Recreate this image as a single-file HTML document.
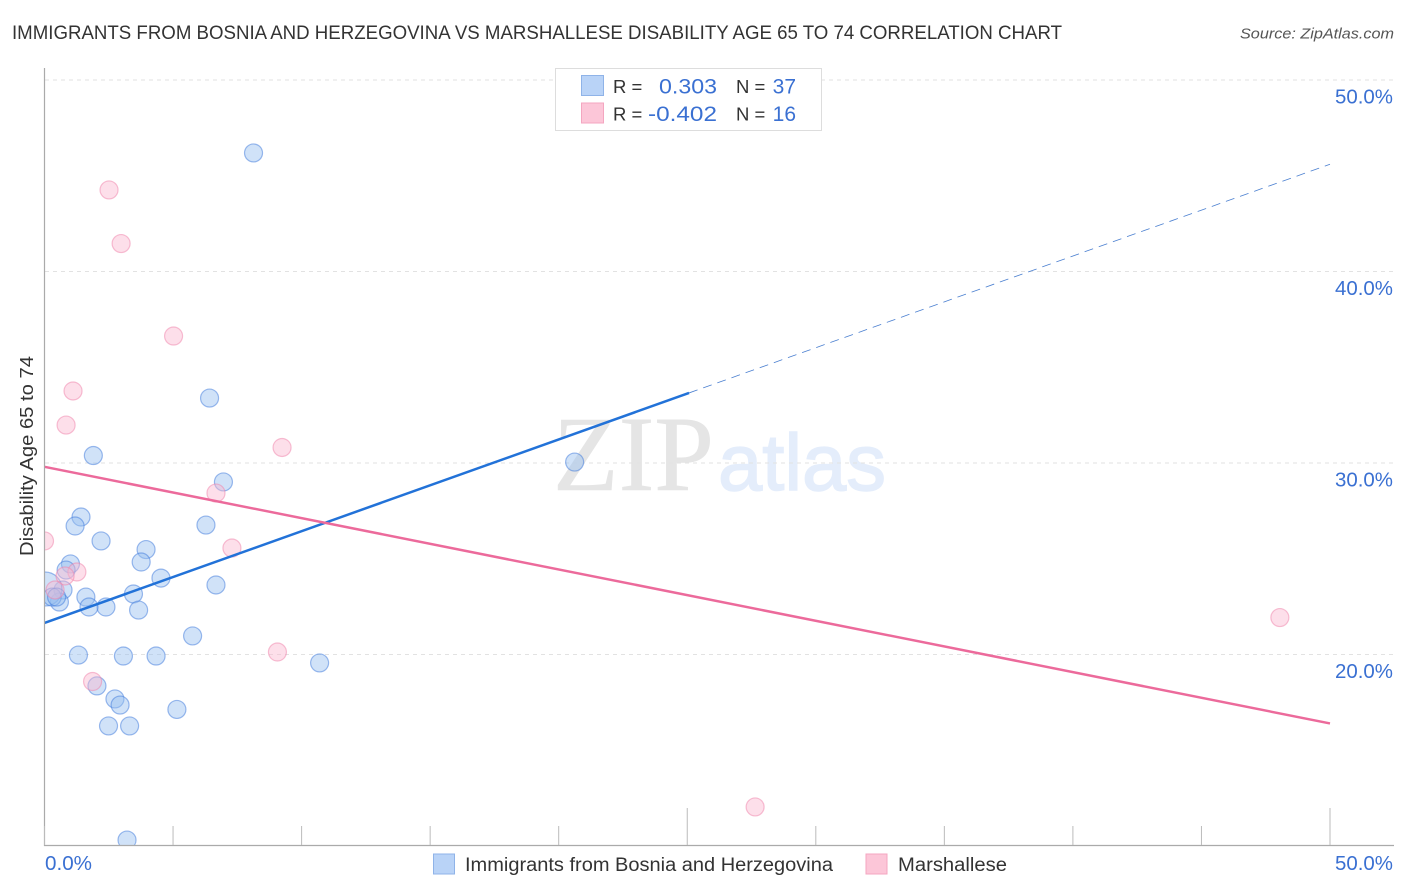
<!DOCTYPE html>
<html lang="en">
<head>
<meta charset="utf-8">
<title>Immigrants from Bosnia and Herzegovina vs Marshallese Disability Age 65 to 74 Correlation Chart</title>
<style>
html,body{margin:0;padding:0;background:#fff;width:1406px;height:892px;overflow:hidden}
svg{display:block}
text{font-family:"Liberation Sans",sans-serif}
</style>
</head>
<body>
<svg id="chart" xmlns="http://www.w3.org/2000/svg" width="1406" height="892" viewBox="0 0 1406 892">
  <defs>
    <clipPath id="plot-clip"><rect x="45" y="60" width="1350" height="785"/></clipPath>
  </defs>
  <text x="12" y="39" font-size="19.5" fill="#333" textLength="1050" lengthAdjust="spacingAndGlyphs">IMMIGRANTS FROM BOSNIA AND HERZEGOVINA VS MARSHALLESE DISABILITY AGE 65 TO 74 CORRELATION CHART</text>
  <text x="1394" y="38.500" font-size="15" font-style="italic" fill="#555" text-anchor="end" textLength="154" lengthAdjust="spacingAndGlyphs">Source: ZipAtlas.com</text>
  <g>
    <text x="553" y="490" font-size="107" fill="#e5e5e5" stroke="#e5e5e5" stroke-width="0.6" textLength="161" lengthAdjust="spacingAndGlyphs" style="font-family:'Liberation Serif',serif">ZIP</text>
    <text x="718" y="490" font-size="80" fill="#e4edfb" stroke="#e4edfb" stroke-width="1.5" textLength="168" lengthAdjust="spacingAndGlyphs">atlas</text>
  </g>
  <g id="grid"></g>
  <g id="points" clip-path="url(#plot-clip)"></g>
  <g id="lines"></g>
  <g id="axes"></g>
  <text transform="translate(33,456) rotate(-90)" font-size="18.500" fill="#333" text-anchor="middle" textLength="200" lengthAdjust="spacingAndGlyphs">Disability Age 65 to 74</text>

  <g>
    <rect x="555.500" y="68.500" width="266" height="62" fill="#fff" stroke="#ddd" stroke-width="1"/>
    <rect x="581.500" y="75.500" width="22" height="20" fill="#b9d3f7" stroke="#8fb3e8" stroke-width="1"/>
    <rect x="581.500" y="103" width="22" height="20" fill="#fcc6d8" stroke="#f4a6c0" stroke-width="1"/>
    <text x="613" y="93" font-size="18.500" fill="#333">R =</text>
    <text x="717" y="93.500" font-size="21" fill="#3a70d2" text-anchor="end" textLength="58" lengthAdjust="spacingAndGlyphs">0.303</text>
    <text x="736" y="93" font-size="18.500" fill="#333">N =</text>
    <text x="796" y="93.500" font-size="21" fill="#3a70d2" text-anchor="end">37</text>
    <text x="613" y="120.500" font-size="18.500" fill="#333">R =</text>
    <text x="717" y="121" font-size="21" fill="#3a70d2" text-anchor="end" textLength="69" lengthAdjust="spacingAndGlyphs">-0.402</text>
    <text x="736" y="120.500" font-size="18.500" fill="#333">N =</text>
    <text x="796" y="121" font-size="21" fill="#3a70d2" text-anchor="end">16</text>
  </g>

  <g>
    <rect x="433.500" y="854" width="21" height="20" fill="#b9d3f7" stroke="#8fb3e8" stroke-width="1"/>
    <text x="465" y="871" font-size="19" fill="#333" textLength="368" lengthAdjust="spacingAndGlyphs">Immigrants from Bosnia and Herzegovina</text>
    <rect x="866" y="854" width="21" height="20" fill="#fcc6d8" stroke="#f4a6c0" stroke-width="1"/>
    <text x="898" y="871" font-size="19" fill="#333" textLength="109" lengthAdjust="spacingAndGlyphs">Marshallese</text>
  </g>
</svg>
<script>
// Chart data, in percent
const xTickValues = [0, 5, 10, 15, 20, 25, 30, 35, 40, 45, 50];
const xMajorTicks = [25, 50];
const xTickLabels = ["0.0%", "50.0%"];
const yGridValues = [50, 40, 30, 20];
const yTickLabels = ["50.0%", "40.0%", "30.0%", "20.0%"];

const bosniaX = [8.13, 6.42, 1.90, 20.62, 6.96, 1.42, 1.19, 6.28, 2.20, 3.95, 3.76, 1.01, 0.84, 4.53, 6.67, 0.72, 3.46, 1.61, 0.58, 2.39, 1.73, 3.66, 5.76, 1.32, 3.07, 4.34, 10.70, 2.04, 2.74, 2.94, 5.15, 2.49, 3.31, 3.21, 0.02, 0.30, 0.47];
const bosniaY = [46.19, 33.39, 30.39, 30.05, 29.01, 27.18, 26.71, 26.76, 25.93, 25.48, 24.83, 24.73, 24.41, 23.99, 23.63, 23.37, 23.16, 23.0, 22.74, 22.48, 22.48, 22.32, 20.97, 19.97, 19.92, 19.92, 19.56, 18.36, 17.68, 17.36, 17.13, 16.27, 16.27, 10.31, 23.42, 23.0, 23.0];
const bosniaR = [9, 9, 9, 9, 9, 9, 9, 9, 9, 9, 9, 9, 9, 9, 9, 9, 9, 9, 9, 9, 9, 9, 9, 9, 9, 9, 9, 9, 9, 9, 9, 9, 9, 9, 17, 9, 9];

const marshalleseX = [2.51, 2.98, 5.02, 1.11, 0.84, 9.24, 6.67, 7.29, 0.0, 1.26, 0.80, 0.41, 9.06, 1.87, 27.64, 48.05];
const marshalleseY = [44.26, 41.46, 36.63, 33.76, 31.98, 30.81, 28.43, 25.56, 25.93, 24.31, 24.1, 23.37, 20.13, 18.59, 12.04, 21.93];

const bosniaLine = { x0: 0, y0: 21.65, xSolidEnd: 25.07, x1: 50, y1: 45.6 };
const marshalleseLine = { x0: 0, y0: 29.8, x1: 50, y1: 16.4 };

// Axis functions
function sx(v) { return 44.5 + v * 25.71; }
function sy(v) { return 80 + (50 - v) * 19.15; }
function lineY(l, x) { return l.y0 + (l.y1 - l.y0) * (x - l.x0) / (l.x1 - l.x0); }

const NS = 'http://www.w3.org/2000/svg';
function make(tag, parent, attrs) {
  const el = document.createElementNS(NS, tag);
  for (const k in attrs) el.setAttribute(k, attrs[k]);
  parent.appendChild(el);
  return el;
}
const gridG = document.getElementById('grid');
const pointsG = document.getElementById('points');
const linesG = document.getElementById('lines');
const axesG = document.getElementById('axes');

yGridValues.forEach(function (v, i) {
  const g = make('line', gridG, { x1: 45, x2: 1394, y1: sy(v), y2: sy(v), stroke: '#e2e2e2', 'stroke-width': 1, 'stroke-dasharray': '4 4' });
  
  
  const t = make('text', axesG, { x: 1393, y: sy(v) + 23.5, 'font-size': 20, fill: '#3a70d2', 'text-anchor': 'end', textLength: 58, lengthAdjust: 'spacingAndGlyphs' });
  t.textContent = yTickLabels[i];
  
  
});

bosniaX.forEach(function (x, i) {
  const c = make('circle', pointsG, { cx: sx(x), cy: sy(bosniaY[i]), r: bosniaR[i], fill: 'rgba(150,190,240,0.45)', stroke: 'rgba(60,120,220,0.5)', 'stroke-width': 1.2 });
  
  
});
marshalleseX.forEach(function (x, i) {
  const c = make('circle', pointsG, { cx: sx(x), cy: sy(marshalleseY[i]), r: 9, fill: 'rgba(250,185,208,0.45)', stroke: 'rgba(240,130,170,0.5)', 'stroke-width': 1.2 });
  
  
});

const solid = make('line', linesG, { x1: sx(bosniaLine.x0), y1: sy(bosniaLine.y0), x2: sx(bosniaLine.xSolidEnd), y2: sy(lineY(bosniaLine, bosniaLine.xSolidEnd)), stroke: '#2272d8', 'stroke-width': 2.500 });


const dashed = make('line', linesG, { x1: sx(bosniaLine.xSolidEnd), y1: sy(lineY(bosniaLine, bosniaLine.xSolidEnd)), x2: sx(bosniaLine.x1), y2: sy(bosniaLine.y1), stroke: '#4a7fd0', 'stroke-width': 0.8, 'stroke-dasharray': '9 6' });


const pink = make('line', linesG, { x1: sx(marshalleseLine.x0), y1: sy(marshalleseLine.y0), x2: sx(marshalleseLine.x1), y2: sy(marshalleseLine.y1), stroke: '#ec6a9b', 'stroke-width': 2.500 });



const yAxis = make('line', axesG, { x1: 44.5, x2: 44.5, y1: 68, y2: 846, stroke: '#aaa', 'stroke-width': 1.2 });


const xAxis = make('line', axesG, { x1: 44, x2: 1394, y1: 845.5, y2: 845.5, stroke: '#aaa', 'stroke-width': 1.2 });



xTickValues.forEach(function (v) {
  const isMajor = xMajorTicks.indexOf(v) >= 0;
  const t = make('line', axesG, { x1: sx(v), x2: sx(v), y1: isMajor ? 808 : 826, y2: 845, stroke: '#bbb', 'stroke-width': 1 });
  
  
});

const x0Label = make('text', axesG, { x: 45, y: 870, 'font-size': 20, fill: '#3a70d2', textLength: 47, lengthAdjust: 'spacingAndGlyphs' });
x0Label.textContent = xTickLabels[0];


const x1Label = make('text', axesG, { x: 1393, y: 870, 'font-size': 20, fill: '#3a70d2', 'text-anchor': 'end', textLength: 58, lengthAdjust: 'spacingAndGlyphs' });
x1Label.textContent = xTickLabels[1];


</script>
</body>
</html>
